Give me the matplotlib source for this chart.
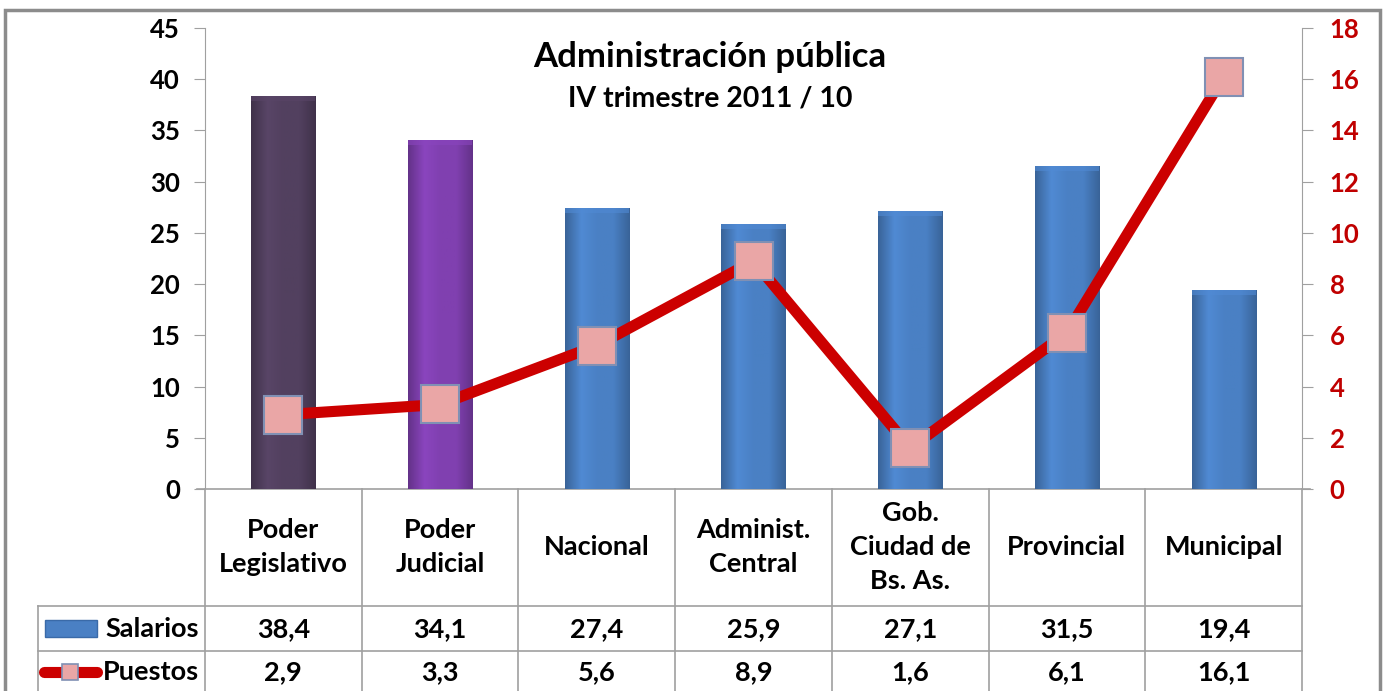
import matplotlib
matplotlib.use("Agg")
import matplotlib.pyplot as plt
import numpy as np
from matplotlib.patches import Rectangle
from matplotlib.lines import Line2D
from matplotlib.transforms import blended_transform_factory
from matplotlib.colors import LinearSegmentedColormap

plt.rcParams['font.family'] = ['Lato', 'DejaVu Sans']
plt.rcParams['font.weight'] = 'bold'

categories = ["Poder\nLegislativo", "Poder\nJudicial", "Nacional", "Administ.\nCentral",
              "Gob.\nCiudad de\nBs. As.", "Provincial", "Municipal"]
salarios = [38.4, 34.1, 27.4, 25.9, 27.1, 31.5, 19.4]
puestos = [2.9, 3.3, 5.6, 8.9, 1.6, 6.1, 16.1]
salarios_lbl = ["38,4", "34,1", "27,4", "25,9", "27,1", "31,5", "19,4"]
puestos_lbl = ["2,9", "3,3", "5,6", "8,9", "1,6", "6,1", "16,1"]
bar_colors = ["#52405f", "#8040b0", "#4a80c4", "#4a80c4", "#4a80c4", "#4a80c4", "#4a80c4"]

W, H = 1383, 691
fig = plt.figure(figsize=(W / 100, H / 100), dpi=100)
fig.patch.set_facecolor("white")

def fx(px):
    return px / W

def fy(py):
    return 1 - py / H

# outer frame
fig.add_artist(Rectangle((fx(5), fy(720)), fx(1380) - fx(5), fy(10) - fy(720),
                         transform=fig.transFigure, fill=False, edgecolor="#8c8c8c", lw=2.5))

ax = fig.add_axes([fx(205), fy(489), fx(1302) - fx(205), fy(28) - fy(489)])
ax2 = ax.twinx()

x = np.arange(len(categories))
bars = ax.bar(x, salarios, width=0.41, color=bar_colors, edgecolor="none", zorder=2)

# gradient shading within bars
for b, c in zip(bars, bar_colors):
    rgb = np.array(matplotlib.colors.to_rgb(c))
    dark = rgb * 0.78
    light = np.clip(rgb * 1.08, 0, 1)
    cmap = LinearSegmentedColormap.from_list("g", [dark, light, rgb, rgb, dark])
    grad = np.linspace(0, 1, 64).reshape(1, -1)
    xb, yb, wb, hb = b.get_x(), b.get_y(), b.get_width(), b.get_height()
    im = ax.imshow(grad, extent=[xb, xb + wb, yb, yb + hb], aspect="auto", cmap=cmap,
                   zorder=2.1, origin="lower")
    im.set_clip_path(b)
    ax.add_patch(Rectangle((xb, yb + hb - 0.5), wb, 0.5, facecolor=light, edgecolor="none",
                           alpha=0.6, zorder=2.2))

ax.set_xlim(-0.5, len(categories) - 0.5)
ax.set_ylim(0, 45)
ax.set_yticks(np.arange(0, 46, 5))
ax.set_xticks([])
ax2.set_ylim(0, 18)
ax2.set_yticks(np.arange(0, 19, 2))

for a in (ax, ax2):
    for s in ("top", "bottom"):
        a.spines[s].set_visible(False)
ax.spines["right"].set_visible(False)
ax2.spines["left"].set_visible(False)
ax.spines["left"].set_color("#a0a0a0")
ax2.spines["right"].set_color("#a0a0a0")
ax.tick_params(axis="y", length=8, color="#a0a0a0", labelsize=18.5, pad=10, labelcolor="black")
ax2.tick_params(axis="y", length=8, color="#a0a0a0", labelsize=18.5, pad=12, labelcolor="#c00000")
for lab in ax.get_yticklabels() + ax2.get_yticklabels():
    lab.set_fontweight("bold")

ax2.plot(x, puestos, color="#cc0000", lw=8, solid_capstyle="round", zorder=3,
         marker="s", ms=27, markerfacecolor="#eaa6a6", markeredgecolor="#8090b4", markeredgewidth=1.5)

ax.set_zorder(1)
ax2.set_zorder(2)
ax.patch.set_visible(False)

# title (centred at ~710 px)
tx = (710 - 205) / (1302 - 205)
ax.text(tx, 0.938, "Administración pública", transform=ax.transAxes, ha="center", va="center",
        fontsize=25, fontweight="bold")
ax.text(tx, 0.848, "IV trimestre 2011 / 10", transform=ax.transAxes, ha="center", va="center",
        fontsize=20.5, fontweight="bold")

# data table
tr = blended_transform_factory(ax.transData, ax.transAxes)
axh = 489 - 28
def ay(py):
    return -(py - 489) / axh

lc = "#a0a0a0"
n = len(categories)
y_top, y_h, y_r1, y_r2 = ay(489), ay(606), ay(651), ay(740)
for i in range(n + 1):
    ax.add_line(Line2D([i - 0.5, i - 0.5], [y_top, y_r2], transform=tr, color=lc, lw=1.2, clip_on=False))
x_left = -0.5 - (205 - 38) / ((1302 - 205) / n)
ax.add_line(Line2D([-0.5 - 8 / 156.7, n - 0.5 + 8 / 156.7], [y_top, y_top], transform=tr, color=lc, lw=1.2, clip_on=False))
for yy in (y_h, y_r1):
    ax.add_line(Line2D([x_left, n - 0.5], [yy, yy], transform=tr, color=lc, lw=1.2, clip_on=False))
ax.add_line(Line2D([x_left, x_left], [y_h, y_r2], transform=tr, color=lc, lw=1.2, clip_on=False))

fs = 19.5
for i, cat in enumerate(categories):
    ax.text(i, ay(547), cat, transform=tr, ha="center", va="center", fontsize=fs,
            fontweight="bold", linespacing=1.5)
    ax.text(i, ay(629), salarios_lbl[i], transform=tr, ha="center", va="center", fontsize=fs, fontweight="bold")
    ax.text(i, ay(672), puestos_lbl[i], transform=tr, ha="center", va="center", fontsize=fs, fontweight="bold")

ax.text(-0.5 - 6 / 156.7, ay(629), "Salarios", transform=tr, ha="right", va="center", fontsize=fs, fontweight="bold")
ax.text(-0.5 - 6 / 156.7, ay(672), "Puestos", transform=tr, ha="right", va="center", fontsize=fs, fontweight="bold")
fig.add_artist(Rectangle((fx(45), fy(637)), fx(97) - fx(45), fy(620) - fy(637), transform=fig.transFigure,
                         facecolor="#4a80c4", edgecolor="#3a6aa8", lw=1))
fig.add_artist(Line2D([fx(44), fx(97)], [fy(672), fy(672)], transform=fig.transFigure, color="#cc0000",
                      lw=8, solid_capstyle="round"))
fig.add_artist(Line2D([fx(70)], [fy(672)], transform=fig.transFigure, marker="s", ms=12,
                      markerfacecolor="#eaa6a6", markeredgecolor="#8090b4", markeredgewidth=1.2))

fig.savefig("out.png", dpi=100)
